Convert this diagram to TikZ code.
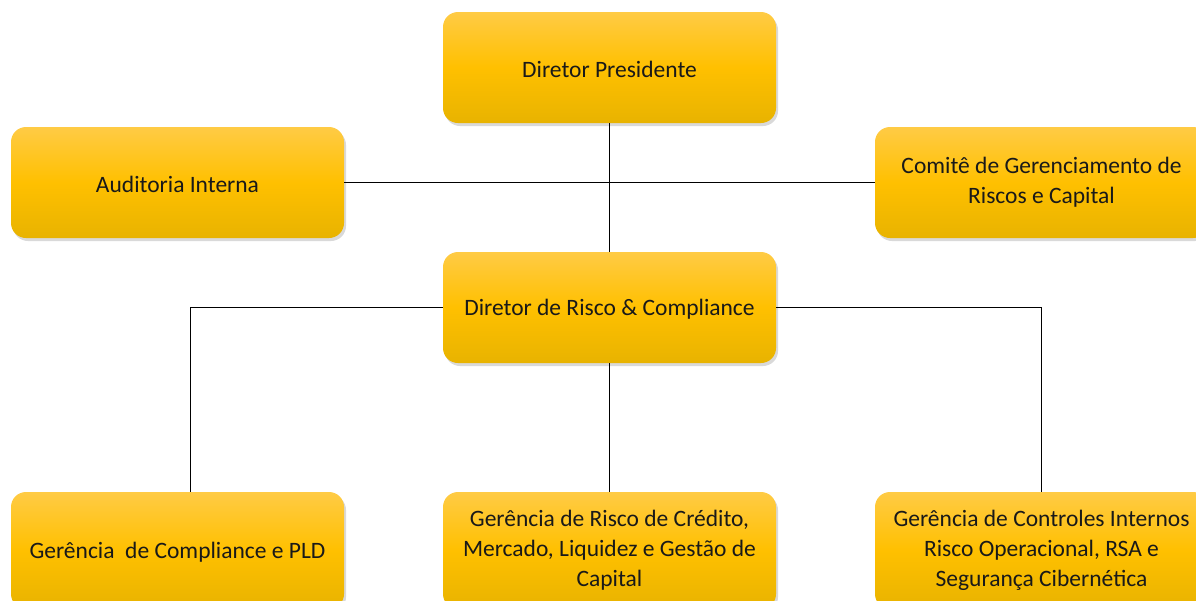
\documentclass[tikz,border=0pt]{standalone}
\usepackage{fontspec}
\setmainfont{Carlito}
\usetikzlibrary{shadows}
\definecolor{boxtop}{HTML}{FFCB45}
\definecolor{boxmid}{HTML}{FFC000}
\definecolor{boxbot}{HTML}{E8B300}
\begin{document}
\begin{tikzpicture}[
		x=1pt, y=-1pt,
		box/.style={rectangle, rounded corners=15pt, minimum width=333pt, minimum height=111pt,
			inner sep=0pt, align=center, top color=boxtop, bottom color=boxbot, middle color=boxmid,
			drop shadow={shadow xshift=2pt, shadow yshift=-3pt, opacity=0.3},
			font=\fontsize{23.5}{29.8}\selectfont, text=black!90,
			execute at begin node={\rule{0pt}{20.5pt}}},
		low/.style={minimum height=117pt},
		link/.style={draw=black, line width=1pt}
		]
	\useasboundingbox (0,0) rectangle (1196,600);
	% top level
	\node [box] (pres) at (609.5,67.5) {Diretor Presidente};
	\node [box] (audit) at (177.5,182.5) {Auditoria Interna};
	\node [box] (comite) at (1041.5,182.5) {Comitê de Gerenciamento de\\Riscos e Capital};
	\node [box] (risk) at (609.5,307.5) {Diretor de Risco \& Compliance};
	% gerencias
	\node [box, low] (compl) at (177.5,550.5) {Gerência~~de Compliance e PLD};
	\node [box, low] (credit) at (609.5,550.5) {Gerência de Risco de Crédito,\\Mercado, Liquidez e Gestão de\\Capital};
	\node [box, low] (ctrl) at (1041.5,550.5) {Gerência de Controles Internos\\Risco Operacional, RSA e\\Segurança Cibernética};
	% links
	\draw [link] (pres) -- (risk);
	\draw [link] (audit.east) -- (audit.east -| comite.west);
	\draw [link] (risk.west) -| ([xshift=12.5pt]compl.north);
	\draw [link] (risk) -- (credit);
	\draw [link] (risk.east) -| (ctrl.north);
\end{tikzpicture}
\end{document}
